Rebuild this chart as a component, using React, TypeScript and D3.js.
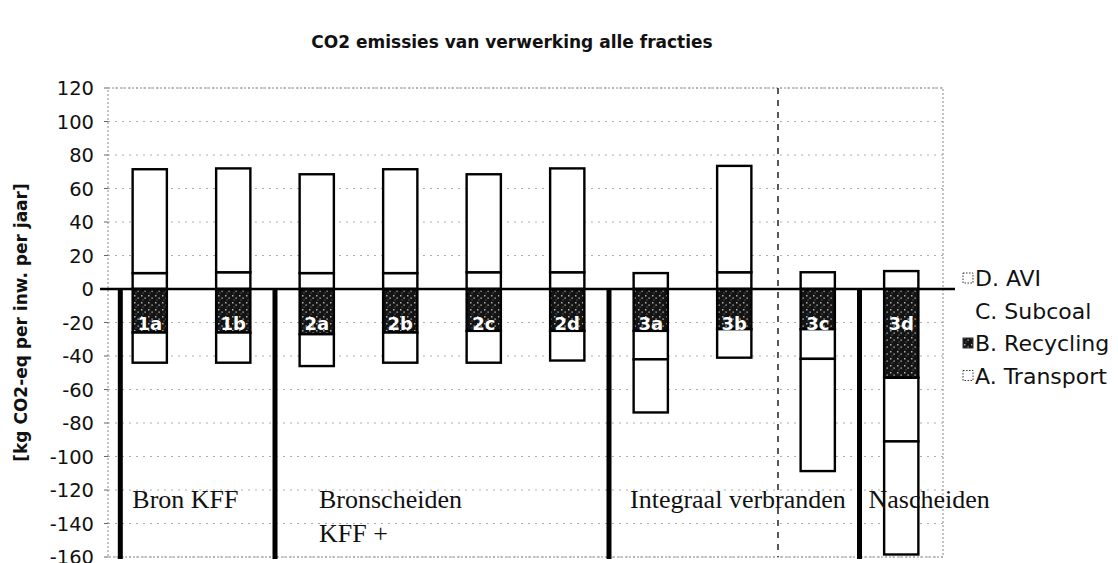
import React from "react";
import * as d3 from "d3";

const categories = ["1a", "1b", "2a", "2b", "2c", "2d", "3a", "3b", "3c", "3d"];
const transport = [9.5, 10, 9.5, 9.5, 10, 10, 9.5, 10, 10, 10.7];
const recycling = [-26, -26, -27, -26, -25, -25, -25, -24, -24, -53];
const subcoal = [-18, -18, -19, -18, -19, -17.7, -17, -17, -17.7, -38];
const avi = [62, 62, 59, 62, 58.5, 62, -31.7, 63.5, -67, -67.5];
const seriesKeys = ["A. Transport", "B. Recycling", "C. Subcoal", "D. AVI"];
const yTicks = [120, 100, 80, 60, 40, 20, 0, -20, -40, -60, -80, -100, -120, -140, -160];
// group label: text lines, separator index it follows, offset in px from separator
const groupLabels = [
  { lines: ["Bron KFF"], sep: 0, dx: 12 },
  { lines: ["Bronscheiden", "KFF +"], sep: 1, dx: 44 },
  { lines: ["Integraal verbranden"], sep: 2, dx: 21 },
  { lines: ["Nascheiden"], sep: 3, dx: 9 },
];
const separatorsAfter = [null, "1b", "2d", "3c"];

const W = 1118, H = 563;
const left = 108, right = 943, top = 88, bottom = 557;

export default function App() {
  const x = d3.scaleBand<string>().domain(categories).range([left, right]).paddingInner(0.59).paddingOuter(0.295);
  const y = d3.scaleLinear().domain([-160, 120]).range([bottom, top]);
  const rows = categories.map((c, i) => ({
    cat: c,
    "A. Transport": transport[i],
    "B. Recycling": recycling[i],
    "C. Subcoal": subcoal[i],
    "D. AVI": avi[i],
  }));
  const stack = d3.stack<any>().keys(seriesKeys).offset(d3.stackOffsetDiverging);
  const layers = stack(rows);
  const bw = x.bandwidth();
  const step = x.step();

  const sepX = separatorsAfter.map((s) => {
    if (s === null) return (left + (x(categories[0]) as number)) / 2;
    const i = categories.indexOf(s);
    return ((x(categories[i]) as number) + bw + (x(categories[i + 1]) as number)) / 2;
  });
  const dashX = ((x("3b") as number) + bw + (x("3c") as number)) / 2 + 2;

  const fillFor = (k: string) => (k === "B. Recycling" ? "url(#recPat)" : "#ffffff");
  const legendOrder = ["D. AVI", "C. Subcoal", "B. Recycling", "A. Transport"];
  const sans = "'DejaVu Sans', Verdana, sans-serif";
  const serif = "'Liberation Serif', 'Times New Roman', serif";

  return (
    <svg width={W} height={H} style={{ position: "absolute", left: 0, top: 0, background: "#fff" }}>
      <defs>
        <pattern id="recPat" width="7" height="7" patternUnits="userSpaceOnUse">
          <rect width="7" height="7" fill="#141414" />
          <rect x="1" y="1" width="1.5" height="1.5" fill="#b0b0b0" />
          <rect x="4.5" y="3.5" width="1.2" height="1.2" fill="#e0e0e0" />
          <rect x="2.5" y="5.5" width="1" height="1" fill="#777" />
        </pattern>
      </defs>
      <text x={512} y={48} textAnchor="middle" fontFamily={sans} fontWeight="bold" fontSize={17} fill="#111">
        CO2 emissies van verwerking alle fracties
      </text>

      {/* plot border */}
      <rect x={left} y={top} width={right - left} height={bottom - top} fill="none" stroke="#888" strokeWidth={1} strokeDasharray="2,2" />
      {/* gridlines */}
      {yTicks.map((t) => (
        <line key={"g" + t} x1={left} x2={right} y1={y(t)} y2={y(t)} stroke="#999" strokeWidth={1} strokeDasharray="2,5" opacity={t === 0 ? 0 : 0.8} />
      ))}
      {/* y tick labels */}
      {yTicks.map((t) => (
        <text key={"t" + t} x={94} y={y(t) + 7} textAnchor="end" fontFamily={sans} fontSize={19.5} fill="#111">
          {t}
        </text>
      ))}
      {yTicks.map((t) => (
        <line key={"tk" + t} x1={left - 4} x2={left} y1={y(t)} y2={y(t)} stroke="#666" strokeWidth={1} />
      ))}
      <text transform={`translate(27,${(top + bottom) / 2}) rotate(-90)`} textAnchor="middle" fontFamily={sans} fontWeight="bold" fontSize={17} fill="#111">
        [kg CO2-eq per inw. per jaar]
      </text>

      {/* dashed vertical marker */}
      <line x1={dashX} x2={dashX} y1={top} y2={bottom} stroke="#222" strokeWidth={1.5} strokeDasharray="6,6" />

      {/* bars */}
      {layers.map((layer) => (
        <g key={layer.key}>
          {layer.map((d: any, i: number) => {
            const y0 = y(Math.max(d[0], d[1]));
            const y1 = y(Math.min(d[0], d[1]));
            if (Math.abs(d[1] - d[0]) < 0.01) return null;
            return (
              <rect key={i} x={x(categories[i])} y={y0} width={bw} height={y1 - y0} fill={fillFor(layer.key)} stroke="#000" strokeWidth={2.4} />
            );
          })}
        </g>
      ))}

      {/* bar labels */}
      {categories.map((c) => (
        <text key={"bl" + c} x={(x(c) as number) + bw / 2} y={y(-20) + 7} textAnchor="middle" fontFamily={sans} fontWeight="bold" fontSize={18} fill="#fff">
          {c}
        </text>
      ))}

      {/* zero line */}
      <line x1={100} x2={955} y1={y(0)} y2={y(0)} stroke="#000" strokeWidth={2.5} />

      {/* separators */}
      {sepX.map((sx, i) => (
        <line key={"s" + i} x1={sx} x2={sx} y1={y(0)} y2={bottom + 2} stroke="#000" strokeWidth={5} />
      ))}

      {/* group labels */}
      {groupLabels.map((g, i) =>
        g.lines.map((ln, j) => (
          <text
            key={"gl" + i + j}
            x={sepX[g.sep] + g.dx}
            y={y(-131) + j * 34}
            textAnchor="start"
            fontFamily={serif}
            fontSize={26}
            fill="#111"
          >
            {ln}
          </text>
        ))
      )}

      {/* legend */}
      {legendOrder.map((k, i) => (
        <g key={"lg" + k} transform={`translate(963,${278 + i * 32.5})`}>
          <rect x={0} y={-5} width={10} height={10} fill={fillFor(k)} stroke={k === "C. Subcoal" ? "none" : "#333"} strokeWidth={1} strokeDasharray={k === "B. Recycling" ? "none" : "1.5,1.5"} />
          <text x={12} y={8} fontFamily={sans} fontSize={22} fill="#111">
            {k}
          </text>
        </g>
      ))}
    </svg>
  );
}
